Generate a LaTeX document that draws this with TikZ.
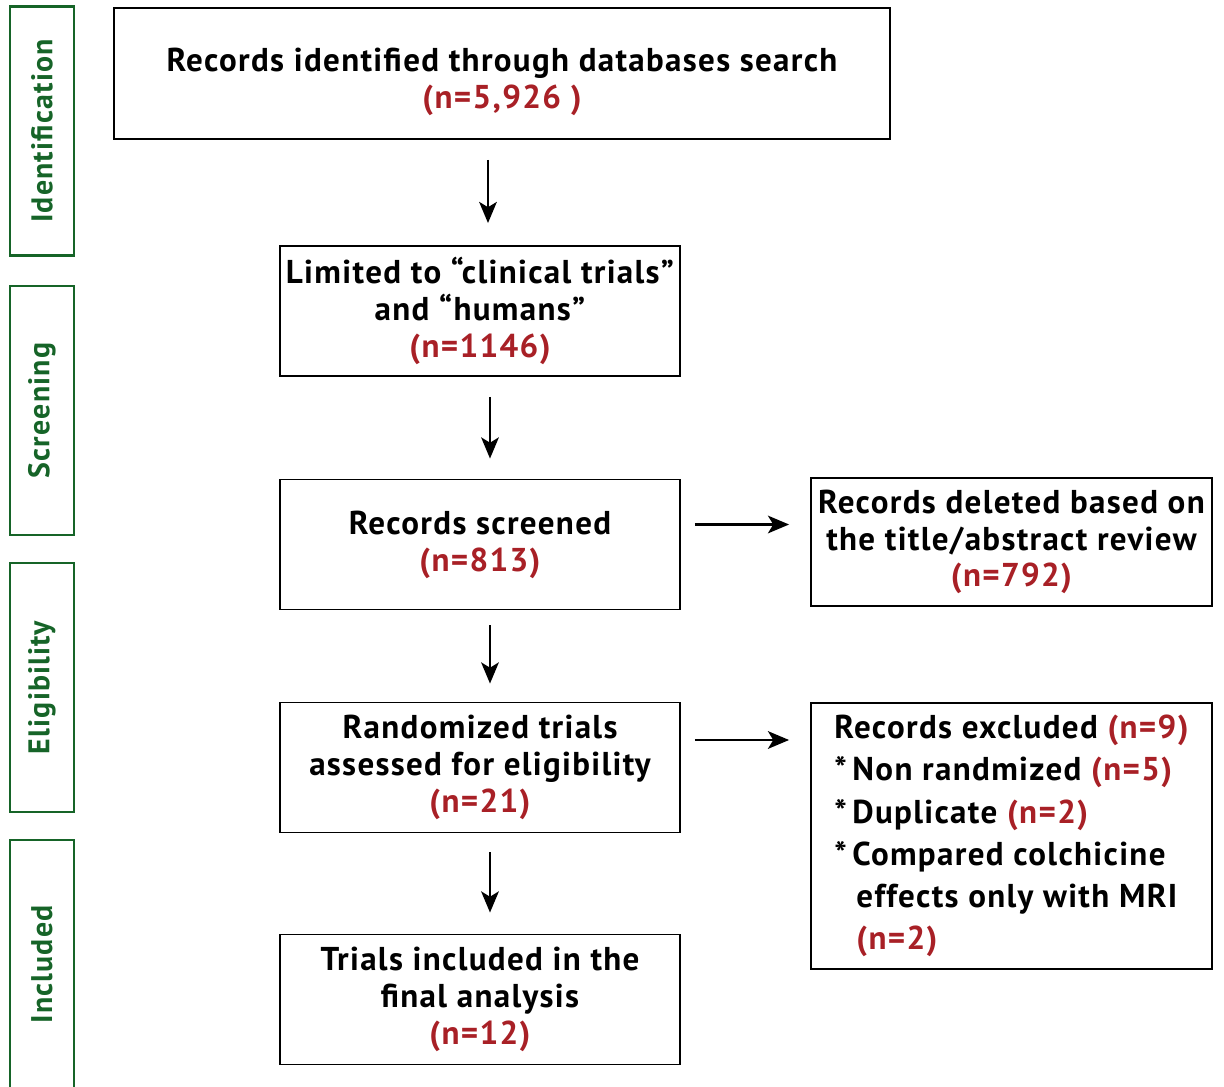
\documentclass[tikz,border=0pt]{standalone}
\usepackage{fontspec}
\setmainfont{PT Sans}[LetterSpace=4]
\usetikzlibrary{arrows.meta}
\definecolor{phasegreen}{RGB}{22,100,40}
\definecolor{countred}{RGB}{168,32,38}
\newcommand{\cnt}[1]{\textcolor{countred}{#1}}

\tikzset{
  stagebox/.style={draw=phasegreen, line width=1.2pt, rotate=90, minimum width=4.98cm, minimum height=1.28cm, inner sep=0pt, text=phasegreen, font=\fontsize{17}{20}\selectfont\bfseries},
  flowbox/.style={draw, line width=1.1pt, minimum width=8cm, minimum height=2.6cm, align=center, inner sep=2pt, font=\fontsize{18.8}{21}\selectfont\bfseries},
  flowarrow/.style={-{Stealth[length=12pt,width=10pt,inset=3pt]}, line width=1.6pt}
}

\begin{document}
\begin{tikzpicture}[x=0.02cm, y=-0.02cm]
    \useasboundingbox (0,0) rectangle (1224,1087);
    % stages
    \node(ident)[stagebox] at (42,131) {Identification};
    \node(screen)[stagebox] at (42,410.5) {Screening};
    \node(elig)[stagebox] at (42,687.5) {Eligibility};
    \node(incl)[stagebox] at (42,964.5) {Included};
    % main column
    \node(search)[flowbox, minimum width=15.52cm, minimum height=2.62cm] at (502,73.5) {\rule{0pt}{0.8cm}Records identified through databases search\\\cnt{(n=5,926 )}};
    \node(limited)[flowbox] at (480,311) {Limited to “clinical trials”\\and “humans”\\\cnt{(n=1146)}};
    \node(screened)[flowbox] at (480,544.5) {Records screened\\\cnt{(n=813)}};
    \node(assessed)[flowbox] at (480,767.5) {Randomized trials\\assessed for eligibility\\\cnt{(n=21)}};
    \node(final)[flowbox] at (480,999.5) {Trials included in the\\final analysis\\\cnt{(n=12)}};
    % side boxes
    \node(deleted)[flowbox, minimum width=8.02cm, minimum height=2.56cm] at (1011.5,542) {Records deleted based on\\the title/abstract review\\\cnt{(n=792)}};
    \node(excluded)[flowbox, minimum width=8.02cm, minimum height=5.32cm, align=left, font=\fontsize{18.8}{24}\selectfont\bfseries] at (1011.5,836) {Records excluded \cnt{(n=9)}\\
        {*}\,Non randmized \cnt{(n=5)}\\
        {*}\,Duplicate \cnt{(n=2)}\\
        {*}\,Compared colchicine\\
        \hspace*{0.44cm}effects only with MRI\\
        \hspace*{0.44cm}\cnt{(n=2)}};
    % arrows
    \draw[flowarrow, shorten <=0.4cm, shorten >=0.44cm] ([xshift=0.16cm]limited.north |- search.south) -- ([xshift=0.16cm]limited.north);
    \draw[flowarrow, shorten <=0.4cm, shorten >=0.4cm] ([xshift=0.2cm]limited.south) -- ([xshift=0.2cm]screened.north);
    \draw[flowarrow, shorten <=0.3cm, shorten >=0.36cm] ([xshift=0.2cm]screened.south) -- ([xshift=0.2cm]assessed.north);
    \draw[flowarrow, shorten <=0.38cm, shorten >=0.42cm] ([xshift=0.2cm]assessed.south) -- ([xshift=0.2cm]final.north);
    \draw[flowarrow, shorten <=0.28cm, shorten >=0.42cm] ([yshift=0.4cm]screened.east) -- ([yshift=0.4cm]screened.east -| deleted.west);
    \draw[flowarrow, shorten <=0.28cm, shorten >=0.42cm] ([yshift=0.55cm]assessed.east) -- ([yshift=0.55cm]assessed.east -| excluded.west);
\end{tikzpicture}
\end{document}
